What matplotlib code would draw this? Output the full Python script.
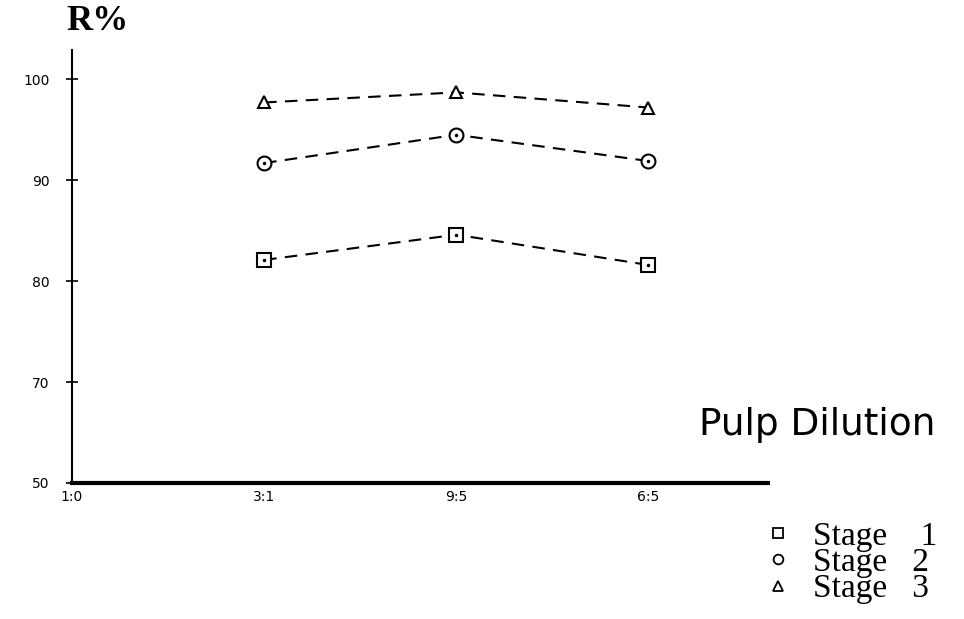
import matplotlib
matplotlib.use("Agg")
import matplotlib.pyplot as plt

categories = ["1:0", "3:1", "9:5", "6:5"]
x_pos = [1, 2, 3]  # data at 3:1, 9:5, 6:5
stage1 = [82.1, 84.6, 81.6]
stage2 = [91.7, 94.5, 91.9]
stage3 = [97.7, 98.7, 97.2]
ytick_vals = [60, 70, 80, 90, 100]
ytick_labels = ["50", "70", "80", "90", "100"]
legend_labels = ["Stage    1", "Stage   2", "Stage   3"]

fig = plt.figure(figsize=(9.64, 6.19), dpi=100)
ax = fig.add_axes([72/964, 1-483/619, (768-72)/964, (483-50)/619])

dash = (0, (6, 4))
ax.plot(x_pos, stage3, ls=dash, color="black", lw=1.5,
        marker="^", ms=9, mfc="white", mec="black", mew=1.5)
ax.plot(x_pos, stage2, ls=dash, color="black", lw=1.5,
        marker="o", ms=10, mfc="white", mec="black", mew=1.5)
ax.plot(x_pos, stage2, ls="none", marker=".", ms=3, color="black")
ax.plot(x_pos, stage1, ls=dash, color="black", lw=1.5,
        marker="s", ms=10, mfc="white", mec="black", mew=1.5)
ax.plot(x_pos, stage1, ls="none", marker=".", ms=3, color="black")

ax.set_xlim(0.0155, 3.622)
ax.set_ylim(60, 102.9)
ax.spines["top"].set_visible(False)
ax.spines["right"].set_visible(False)
ax.spines["left"].set_linewidth(1.5)
ax.spines["bottom"].set_linewidth(3)

ax.set_xticks(range(len(categories)))
ax.set_xticklabels(categories, fontsize=10)
ax.tick_params(axis="x", length=0, pad=5)
ax.set_yticks(ytick_vals)
ax.set_yticklabels(ytick_labels, fontsize=10)
ax.tick_params(axis="y", direction="inout", length=8, width=1.2, pad=12)

fig.text(66/964, 1-22/619, "R%", fontsize=26, fontweight="bold",
         family="Liberation Serif", va="center", ha="left")
fig.text(699/964, 1-425/619, "Pulp Dilution", fontsize=27,
         family="DejaVu Sans", va="center", ha="left")

# legend
leg_y = [537, 563, 590]
markers = ["s", "o", "^"]
for yy, m in zip(leg_y, markers):
    fig.lines.append(plt.Line2D([778/964], [1-(yy-4)/619], marker=m, ms=7,
                                mfc="white", mec="black", mew=1.3,
                                transform=fig.transFigure, ls="none"))
fig.text(813/964, 1-563/619, "\n".join(legend_labels), fontsize=24,
         family="Liberation Serif", va="center", ha="left", linespacing=0.8)

fig.savefig("out.png", dpi=100)
